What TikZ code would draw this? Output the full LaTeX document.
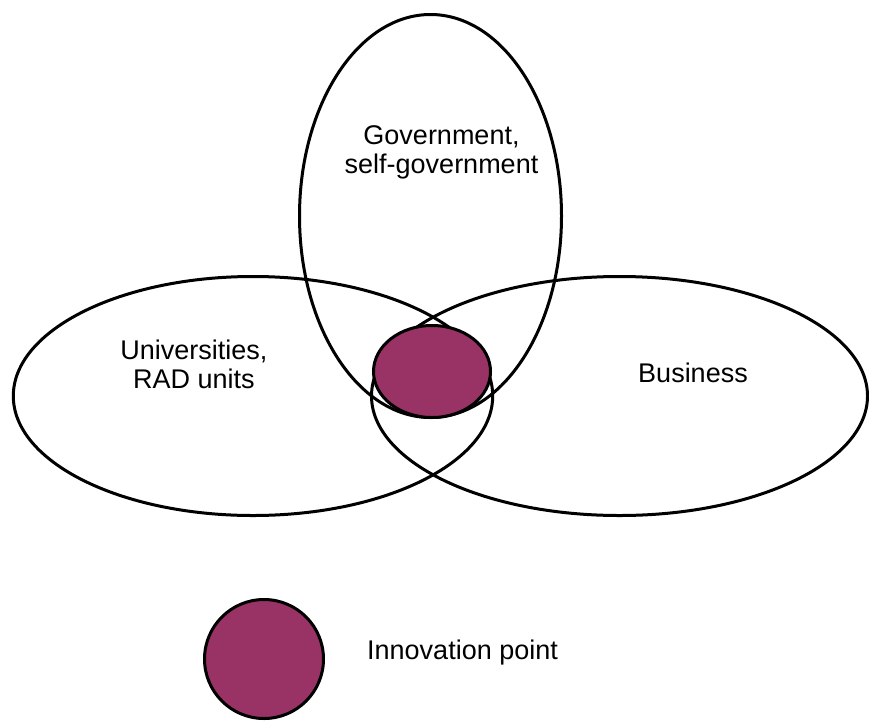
\documentclass[tikz,border=0pt]{standalone}
\usepackage{fontspec}
\setmainfont{Liberation Sans}
\usetikzlibrary{shapes.geometric}
\definecolor{innov}{HTML}{993366}
\begin{document}
\begin{tikzpicture}[x=1pt,y=-1pt,
  setshape/.style={draw=black, line width=3pt, ellipse, inner sep=0pt, outer sep=0pt},
  lbl/.style={font=\fontsize{27}{29}\selectfont, inner sep=0pt, align=center, anchor=base},
]
\useasboundingbox (0,0) rectangle (869,720);
\node[setshape, minimum width=262pt, minimum height=403pt] (gov) at (430.5,216) {};
\node[setshape, minimum width=479.4pt, minimum height=239pt] (uni) at (253,396) {};
\node[setshape, minimum width=496pt, minimum height=239pt] (bus) at (619.5,396) {};
\node[setshape, fill=innov, minimum width=117pt, minimum height=92pt] (core) at (432,371.5) {};
\node[setshape, fill=innov, minimum width=119pt, minimum height=119pt] (legend) at (264,659) {};
\node[lbl] (govtext) at (441.5,173) {Government,\\self-government};
\node[lbl] (unitext) at (194,388) {Universities,\\RAD units};
\node[lbl] (bustext) at (693,382) {Business};
\node[lbl, anchor=base west] (legtext) at (367,659) {Innovation point};
\end{tikzpicture}
\end{document}
